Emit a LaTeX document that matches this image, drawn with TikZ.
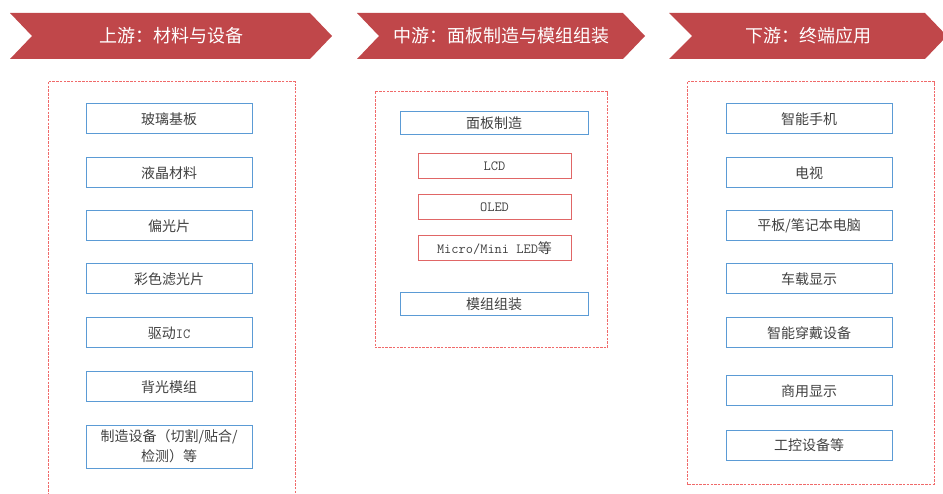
\documentclass[tikz,border=0pt]{standalone}
\usepackage{fontspec}
\setmainfont{Noto Sans CJK SC}
\definecolor{bannerred}{HTML}{C0474A}
\definecolor{boxblue}{HTML}{5B9BD5}
\definecolor{boxred}{HTML}{E06666}
\definecolor{dashred}{HTML}{F06A6A}
\definecolor{txtgray}{HTML}{404040}
\tikzset{
  banner/.style={fill=bannerred, draw=none},
  bannertext/.style={text=white, font=\fontsize{18}{20}\selectfont, inner sep=0},
  group/.style={draw=dashred, line width=1pt, dash pattern=on 2.5pt off 1.2pt},
  bluebox/.style={draw=boxblue, line width=1pt, minimum width=166pt, minimum height=30pt, inner sep=0, text=txtgray, font=\fontsize{14}{17}\selectfont, align=center},
  midbox/.style={draw=boxblue, line width=1pt, minimum width=188pt, minimum height=23pt, inner sep=0, text=txtgray, font=\fontsize{14}{17}\selectfont},
  redbox/.style={draw=boxred, line width=1pt, minimum width=153pt, minimum height=25pt, inner sep=0, text=txtgray, font=\fontsize{14}{15}\selectfont\ttfamily},
}
\begin{document}
\begin{tikzpicture}[x=1pt,y=-1pt]
\useasboundingbox (0,0) rectangle (943,494);
\clip (0,0) rectangle (943,494);
% banners
\fill[banner] (10,13) -- (310,13) -- (332,36) -- (310,59) -- (10,59) -- (32,36) -- cycle;
\node[bannertext] (b1) at (171,36) {上游：材料与设备};
\fill[banner] (357,13) -- (623,13) -- (645,36) -- (623,59) -- (357,59) -- (379,36) -- cycle;
\node[bannertext] (b2) at (501,36) {中游：面板制造与模组组装};
\fill[banner] (669,13) -- (925,13) -- (947,36) -- (925,59) -- (669,59) -- (692,36) -- cycle;
\node[bannertext] (b3) at (808,36) {下游：终端应用};
% groups
\draw[group] (48,82) rectangle (295,510);
\draw[group] (375,92) rectangle (607,348);
\draw[group] (687,82) rectangle (934,484);
% left column
\node[bluebox] (l1) at (169,119) {玻璃基板};
\node[bluebox] (l2) at (169,173) {液晶材料};
\node[bluebox] (l3) at (169,226) {偏光片};
\node[bluebox] (l4) at (169,279) {彩色滤光片};
\node[bluebox] (l5) at (169,333) {驱动{\ttfamily IC}};
\node[bluebox] (l6) at (169,387) {背光模组};
\node[bluebox, minimum height=43pt, font=\fontsize{14}{20}\selectfont] (l7) at (169,446.5) {制造设备（切割/贴合/\\检测）等};
% middle column
\node[midbox] (m1) at (494,123.5) {面板制造};
\node[redbox] (m2) at (494.5,166.5) {LCD};
\node[redbox] (m3) at (494.5,207) {OLED};
\node[redbox] (m4) at (494.5,248) {Micro/Mini LED{\rmfamily 等}};
\node[midbox] (m5) at (494,304.5) {模组组装};
% right column
\node[bluebox] (r1) at (809,119) {智能手机};
\node[bluebox] (r2) at (809,173) {电视};
\node[bluebox] (r3) at (809,226) {平板/笔记本电脑};
\node[bluebox] (r4) at (809,279) {车载显示};
\node[bluebox] (r5) at (809,333) {智能穿戴设备};
\node[bluebox] (r6) at (809,391) {商用显示};
\node[bluebox] (r7) at (809,445) {工控设备等};
\end{tikzpicture}
\end{document}
